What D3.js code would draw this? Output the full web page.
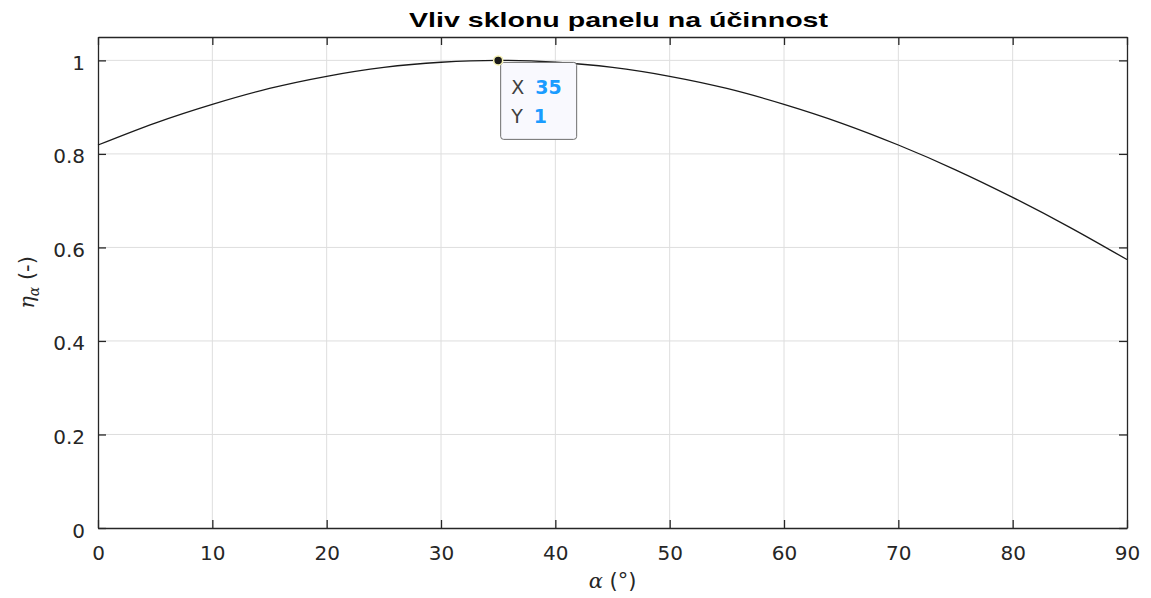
<!DOCTYPE html>
<html>
<head>
<meta charset="utf-8">
<script src="https://cdn.jsdelivr.net/npm/d3@7"></script>
<style>
  body { margin: 0; background: #fff; }
  svg { display: block; font-family: "DejaVu Sans", Arial, sans-serif; }
</style>
</head>
<body>
<div id="chart"></div>
<script>
// Chart data
const tiltAngles = [0, 5, 10, 15, 20, 25, 30, 35, 40, 45, 50, 55, 60, 65, 70, 75, 80, 85, 90];
const efficiency = [0.819, 0.866, 0.906, 0.940, 0.966, 0.985, 0.996, 1.0, 0.996, 0.985, 0.966, 0.940, 0.906, 0.866, 0.819, 0.766, 0.707, 0.643, 0.574];
const xTicks = [0, 10, 20, 30, 40, 50, 60, 70, 80, 90];
const yTicks = [0, 0.2, 0.4, 0.6, 0.8, 1];
const datatip = { x: 35, y: 1 };
const titleText = 'Vliv sklonu panelu na účinnost';

const width = 1151, height = 598;
const margin = { top: 37, right: 24, bottom: 70, left: 98 };
const axisColor = '#262626';

const svg = d3.select('#chart').append('svg')
    .attr('width', width)
    .attr('height', height);

const x = d3.scaleLinear().domain([0, 90]).range([margin.left, width - margin.right]);
const y = d3.scaleLinear().domain([0, 1.05]).range([height - margin.bottom, margin.top]);

const x0 = x.range()[0], x1 = x.range()[1];
const y0 = y.range()[0], y1 = y.range()[1];

// Grid lines
const grid = svg.append('g').attr('stroke', '#dedede').attr('stroke-width', 1);
grid.selectAll('.gx').data(xTicks.slice(1, -1)).enter().append('line')
    .attr('x1', d => x(d)).attr('x2', d => x(d))
    .attr('y1', y1).attr('y2', y0);
grid.selectAll('.gy').data(yTicks.slice(1)).enter().append('line')
    .attr('x1', x0).attr('x2', x1)
    .attr('y1', d => y(d)).attr('y2', d => y(d));

// Axes, MATLAB style ticks pointing inward
const tickLen = 8;
const xAxis = svg.append('g')
    .attr('transform', `translate(0,${y0})`)
    .call(d3.axisBottom(x).tickValues(xTicks).tickSizeInner(-tickLen).tickSizeOuter(0).tickPadding(tickLen + 10));
const xAxisTop = svg.append('g')
    .attr('transform', `translate(0,${y1})`)
    .call(d3.axisTop(x).tickValues(xTicks).tickSizeInner(-tickLen).tickSizeOuter(0).tickFormat(''));
const yAxis = svg.append('g')
    .attr('transform', `translate(${x0},0)`)
    .call(d3.axisLeft(y).tickValues(yTicks).tickSizeInner(-tickLen).tickSizeOuter(0).tickPadding(tickLen + 5).tickFormat(d3.format('~g')));
const yAxisRight = svg.append('g')
    .attr('transform', `translate(${x1},0)`)
    .call(d3.axisRight(y).tickValues(yTicks).tickSizeInner(-tickLen).tickSizeOuter(0).tickFormat(''));

[xAxis, xAxisTop, yAxis, yAxisRight].forEach(a => {
    a.select('.domain').attr('stroke', axisColor).attr('stroke-width', 1.3);
    a.selectAll('.tick line').attr('stroke', axisColor).attr('stroke-width', 1.3);
    a.selectAll('.tick text')
        .attr('fill', axisColor)
        .style('font-size', '20px')
        .style('font-family', '"DejaVu Sans", Arial, sans-serif');
});
yAxis.selectAll('.tick text').attr('dy', '0.45em');

// Curve
const line = d3.line()
    .x((d, i) => x(tiltAngles[i]))
    .y(d => y(d))
    .curve(d3.curveMonotoneX);

svg.append('path')
    .datum(efficiency)
    .attr('fill', 'none')
    .attr('stroke', '#1a1a1a')
    .attr('stroke-width', 1.3)
    .attr('d', line);

// Title (reference is stretched horizontally)
svg.append('text')
    .attr('x', 409)
    .attr('y', 27)
    .attr('textLength', 419)
    .attr('lengthAdjust', 'spacingAndGlyphs')
    .attr('fill', '#000')
    .style('font-family', '"Liberation Sans", Arial, sans-serif')
    .style('font-size', '21px')
    .style('font-weight', 'bold')
    .text(titleText);

// X label
const xl = svg.append('text')
    .attr('x', (x0 + x1) / 2)
    .attr('y', 588)
    .attr('text-anchor', 'middle')
    .attr('fill', axisColor)
    .style('font-size', '21px');
xl.append('tspan').style('font-style', 'italic').style('font-family', '"DejaVu Serif", serif').text('α');
xl.append('tspan').text(' (°)');

// Y label
const yl = svg.append('text')
    .attr('transform', `translate(34,${(y0 + y1) / 2}) rotate(-90)`)
    .attr('text-anchor', 'middle')
    .attr('fill', axisColor)
    .style('font-size', '21px');
yl.append('tspan').style('font-style', 'italic').style('font-family', '"DejaVu Serif", serif').text('η');
yl.append('tspan').attr('dy', 5).style('font-style', 'italic').style('font-size', '14px')
    .style('font-family', '"DejaVu Serif", serif').text('α');
yl.append('tspan').attr('dy', -5).text(' (-)');

// Datatip
const px = x(datatip.x), py = y(datatip.y);
const tip = svg.append('g');
tip.append('rect')
    .attr('x', px + 2.5).attr('y', py + 2)
    .attr('width', 76).attr('height', 77)
    .attr('rx', 3)
    .attr('fill', '#f9f9fe')
    .attr('stroke', '#6e6e6e')
    .attr('stroke-width', 1);
const rows = [['X', datatip.x], ['Y', datatip.y]];
rows.forEach((r, i) => {
    const t = tip.append('text')
        .attr('x', px + 13)
        .attr('y', py + 34 + i * 29)
        .style('font-size', '19px');
    t.append('tspan').attr('fill', '#404040').text(r[0]);
    t.append('tspan').attr('dx', 11).attr('fill', '#1a9cff').style('font-weight', 'bold').text(r[1]);
});
svg.append('circle')
    .attr('cx', px).attr('cy', py)
    .attr('r', 4.5)
    .attr('fill', '#1a1a1a')
    .attr('stroke', '#f4f0b0')
    .attr('stroke-width', 1.5);
</script>
</body>
</html>
